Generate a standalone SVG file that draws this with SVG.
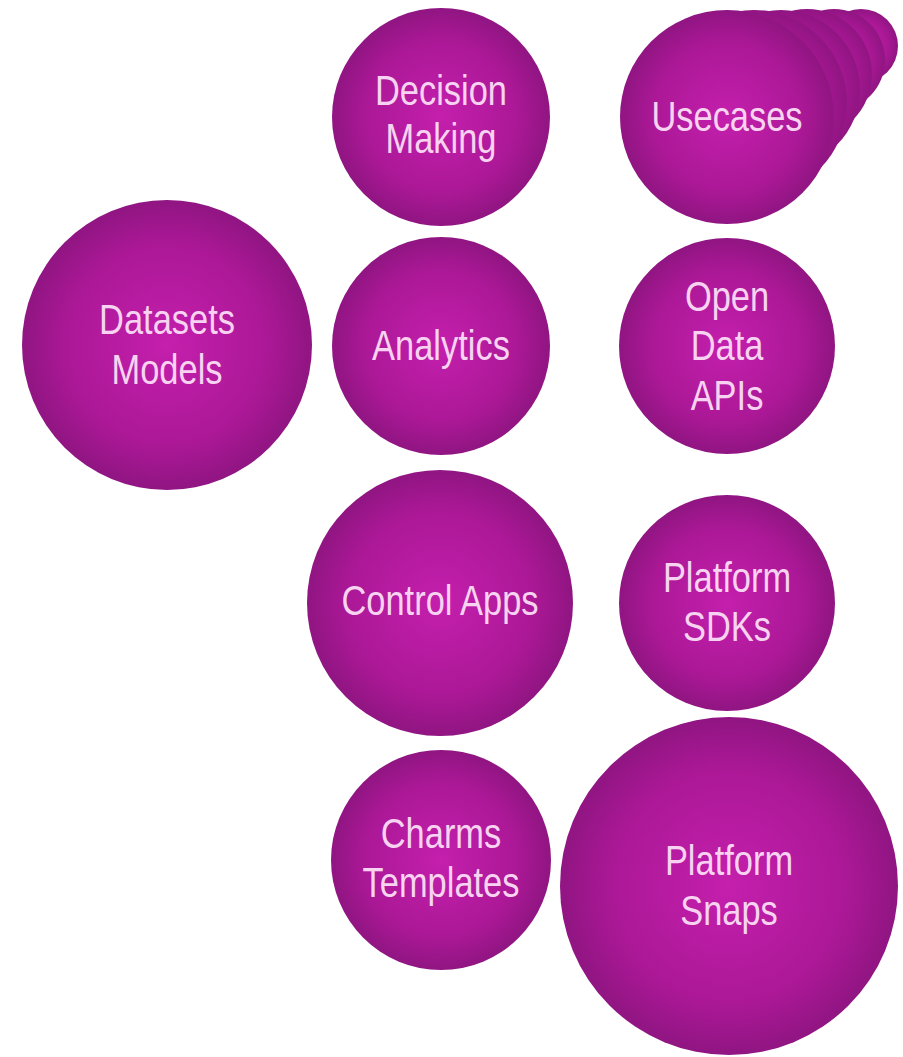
<svg xmlns="http://www.w3.org/2000/svg" width="903" height="1057" viewBox="0 0 903 1057">
<defs>
<radialGradient id="g" cx="0.5" cy="0.5" r="0.5">
<stop offset="0" stop-color="#c41fad"/>
<stop offset="0.7" stop-color="#ab1896"/>
<stop offset="1" stop-color="#901582"/>
</radialGradient>
</defs>
<style>
circle{fill:url(#g)}
text{font-family:"Liberation Sans",Arial,sans-serif;font-size:42px;fill:#f7d3f1;text-anchor:middle}
</style>
<rect width="903" height="1057" fill="#ffffff"/>
<g id="decision-making"><circle cx="441" cy="117" r="109"/><text transform="translate(441 105) scale(0.82 1)">Decision</text><text transform="translate(441 153) scale(0.82 1)">Making</text></g>
<g id="usecases">
<circle cx="861" cy="46" r="37"/>
<circle cx="834" cy="60" r="51"/>
<circle cx="807" cy="74" r="65"/>
<circle cx="781" cy="89" r="79"/>
<circle cx="754" cy="103" r="93"/>
<circle cx="727" cy="117" r="107"/>
<text transform="translate(727 131) scale(0.82 1)">Usecases</text></g>
<g id="datasets-models"><circle cx="167" cy="345" r="145"/><text transform="translate(167 334) scale(0.82 1)">Datasets</text><text transform="translate(167 384) scale(0.82 1)">Models</text></g>
<g id="analytics"><circle cx="441" cy="346" r="109"/><text transform="translate(441 360) scale(0.82 1)">Analytics</text></g>
<g id="open-data-apis"><circle cx="727" cy="346" r="108"/><text transform="translate(727 311) scale(0.82 1)">Open</text><text transform="translate(727 360) scale(0.82 1)">Data</text><text transform="translate(727 410) scale(0.82 1)">APIs</text></g>
<g id="control-apps"><circle cx="440" cy="603" r="133"/><text transform="translate(440 615) scale(0.82 1)">Control Apps</text></g>
<g id="platform-sdks"><circle cx="727" cy="603" r="108"/><text transform="translate(727 592) scale(0.82 1)">Platform</text><text transform="translate(727 641) scale(0.82 1)">SDKs</text></g>
<g id="charms-templates"><circle cx="441" cy="860" r="110"/><text transform="translate(441 848) scale(0.82 1)">Charms</text><text transform="translate(441 897) scale(0.82 1)">Templates</text></g>
<g id="platform-snaps"><circle cx="729" cy="886" r="169"/><text transform="translate(729 875) scale(0.82 1)">Platform</text><text transform="translate(729 925) scale(0.82 1)">Snaps</text></g>
<g id="connectors"/>
</svg>
